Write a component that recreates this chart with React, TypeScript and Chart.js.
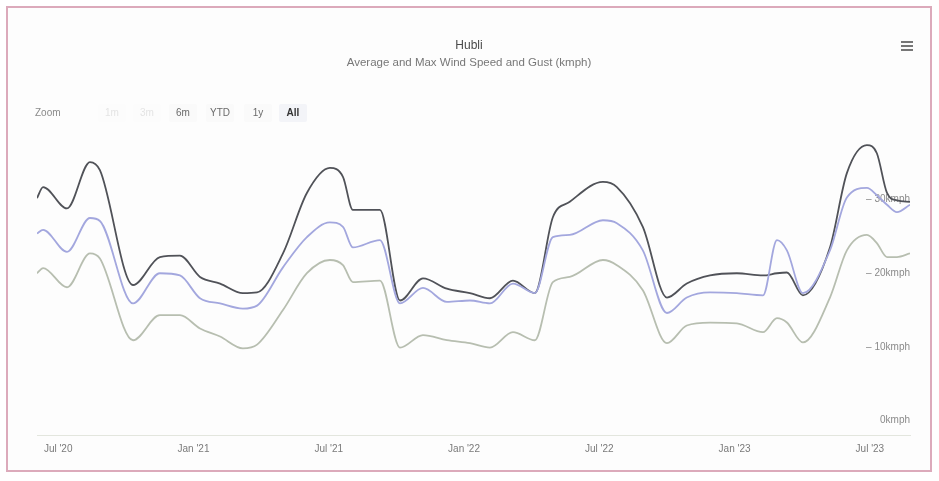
import React, { useEffect, useRef } from "react";
import { Chart, registerables } from "chart.js";

Chart.register(...registerables);

// months since Jul 2020
const months = [
  -0.94, -0.67, 0.39, 1.41, 1.85, 3.32, 4.51, 5.4, 6.29, 7.18, 8.19, 8.82, 9.97, 11.03, 12.05,
  12.63, 13.07, 14.27, 15.16, 16.18, 17.24, 18.26, 19.15, 20.17, 21.14, 21.94, 22.69, 24.16,
  24.78, 25.93, 27.0, 27.88, 28.91, 30.1, 31.26, 31.88, 32.32, 33.03, 34.23, 34.98, 35.87,
  36.31, 36.76, 37.2, 37.78,
];

const gust = [
  30.2, 31.7, 28.8, 35.1, 34.0, 18.4, 22.2, 22.4, 19.5, 18.6, 17.3, 17.4, 22.7, 30.9, 34.3,
  33.1, 28.6, 28.6, 16.3, 19.3, 17.9, 17.3, 16.6, 19.0, 17.3, 27.6, 29.7, 32.4,
  31.7, 26.3, 16.7, 18.6, 19.7, 20.0, 19.7, 20.0, 20.1, 17.0, 23.5, 33.6, 37.4,
  36.3, 30.9, 29.9, 29.7,
];

const maxWind = [
  25.4, 25.9, 22.9, 27.5, 27.1, 15.9, 20.0, 19.7, 16.6, 15.9, 15.2, 15.6, 20.8, 24.9, 26.9,
  26.3, 23.5, 24.5, 15.9, 18.0, 16.1, 16.3, 15.9, 18.6, 17.3, 24.9, 25.2, 27.2,
  26.8, 23.1, 14.6, 16.7, 17.4, 17.3, 17.0, 24.5, 23.1, 17.3, 23.1, 30.3, 31.6,
  30.6, 29.3, 28.3, 29.3,
];

const avgWind = [
  20.0, 20.7, 18.1, 22.7, 22.0, 10.9, 14.3, 14.3, 12.5, 11.4, 9.8, 10.3, 15.0, 20.0, 21.8,
  21.1, 18.8, 19.0, 9.9, 11.6, 10.9, 10.5, 9.9, 12.0, 10.9, 18.8, 19.5, 21.8,
  21.1, 17.7, 10.5, 12.9, 13.3, 13.2, 12.0, 13.9, 13.3, 10.6, 16.7, 23.1, 25.2,
  24.1, 22.2, 22.2, 22.7,
];

const xTickMonths = [0, 6, 12, 18, 24, 30, 36];
const xTickLabels = ["Jul '20", "Jan '21", "Jul '21", "Jan '22", "Jul '22", "Jan '23", "Jul '23"];
const yTickValues = [0, 10, 20, 30];

const FONT = 'Helvetica, Arial, "Liberation Sans", sans-serif';

export default function App() {
  const canvasRef = useRef<HTMLCanvasElement | null>(null);

  useEffect(() => {
    if (!canvasRef.current) return;
    const mk = (vals: number[]) => months.map((m, i) => ({ x: m, y: vals[i] }));
    const chart = new Chart(canvasRef.current, {
      type: "line",
      data: {
        datasets: [
          { label: "Average Wind Speed", data: mk(avgWind), borderColor: "#b7beb0", borderWidth: 1.8 },
          { label: "Max Wind Speed", data: mk(maxWind), borderColor: "#a3a7de", borderWidth: 1.8 },
          { label: "Gust", data: mk(gust), borderColor: "#505258", borderWidth: 1.8 },
        ],
      },
      options: {
        animation: false,
        responsive: false,
        maintainAspectRatio: false,
        parsing: false as any,
        elements: { point: { radius: 0 }, line: { tension: 0.4, cubicInterpolationMode: "monotone" } },
        layout: { padding: { left: 29, right: 20, top: 118, bottom: 6.8 } },
        plugins: { legend: { display: false }, title: { display: false }, tooltip: { enabled: false } },
        scales: {
          x: {
            type: "linear",
            min: months[0],
            max: months[months.length - 1],
            grid: { display: false, drawTicks: false },
            border: { display: true, color: "#e3e6de", width: 1 },
            afterBuildTicks: (axis: any) => {
              axis.ticks = xTickMonths.map((v) => ({ value: v }));
            },
            ticks: {
              padding: 8,
              color: "#7a7a7a",
              font: { family: FONT, size: 10 },
              maxRotation: 0,
              autoSkip: false,
              callback: (v: any) => {
                const i = xTickMonths.indexOf(Number(v));
                return i >= 0 ? xTickLabels[i] : "";
              },
            },
          },
          y: {
            position: "right",
            min: -2,
            max: 40,
            grid: { display: false, drawTicks: false },
            border: { display: false },
            afterBuildTicks: (axis: any) => {
              axis.ticks = yTickValues.map((v) => ({ value: v }));
            },
            ticks: {
              mirror: true,
              padding: 0,
              color: "#8a8a8a",
              font: { family: FONT, size: 10 },
              callback: (v: any) => (Number(v) === 0 ? "0kmph" : "– " + v + "kmph"),
            },
          },
        },
      },
    });
    return () => chart.destroy();
  }, []);

  const btn = (label: string, center: number, color: string, bold = false, bg = "transparent") => (
    <span
      key={label}
      style={{
        position: "absolute",
        left: center - 14,
        top: 96,
        width: 28,
        height: 18,
        lineHeight: "18px",
        textAlign: "center",
        fontSize: 10,
        color,
        fontWeight: bold ? 700 : 400,
        background: bg,
        borderRadius: 2,
      }}
    >
      {label}
    </span>
  );

  return (
    <div
      style={{
        position: "absolute",
        left: 6,
        top: 6,
        width: 922,
        height: 462,
        border: "2px solid #dcaabb",
        background: "#fdfdfd",
        fontFamily: FONT,
        overflow: "hidden",
      }}
    >
      <canvas ref={canvasRef} width={922} height={462} style={{ position: "absolute", left: 0, top: 0, width: 922, height: 462 }} />
      <div style={{ position: "absolute", left: 0, width: 922, top: 30, textAlign: "center", fontSize: 12, lineHeight: "14px", color: "#4a4a4a" }}>
        Hubli
      </div>
      <div style={{ position: "absolute", left: 0, width: 922, top: 47, textAlign: "center", fontSize: 11.5, lineHeight: "14px", color: "#777" }}>
        Average and Max Wind Speed and Gust (kmph)
      </div>
      <span style={{ position: "absolute", left: 27, top: 96, lineHeight: "18px", fontSize: 10, color: "#8a8a8a" }}>Zoom</span>
      {btn("1m", 104, "#e4e4e4", false, "#fcfcfc")}
      {btn("3m", 139, "#e4e4e4", false, "#fcfcfc")}
      {btn("6m", 175, "#6a6a6a", false, "#fafafa")}
      {btn("YTD", 212, "#6a6a6a", false, "#fafafa")}
      {btn("1y", 250, "#6a6a6a", false, "#fafafa")}
      {btn("All", 285, "#333", true, "#f3f4f8")}
      <div style={{ position: "absolute", left: 893, top: 33, width: 12, height: 10 }}>
        {[0, 4, 8].map((t) => (
          <div key={t} style={{ position: "absolute", left: 0, top: t, width: 12, height: 2, background: "#777" }} />
        ))}
      </div>
    </div>
  );
}
